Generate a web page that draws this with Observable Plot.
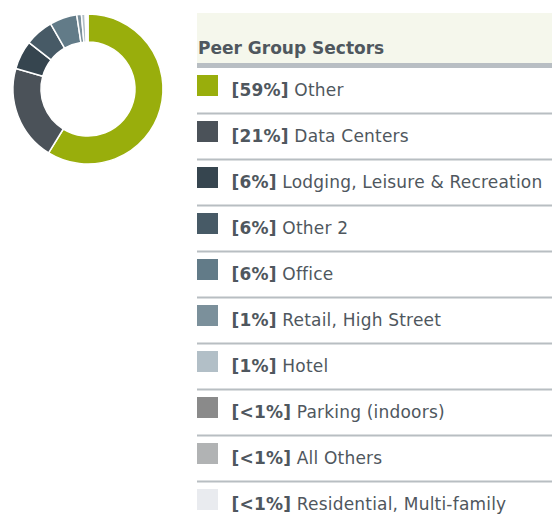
<!DOCTYPE html>
<html><head><meta charset="utf-8">
<script src="https://cdn.jsdelivr.net/npm/d3@7"></script>
<script src="https://cdn.jsdelivr.net/npm/@observablehq/plot@0.6"></script>
<style>body{margin:0;background:#fff;}</style>
</head><body><div id="chart"></div>
<script>
const title = "Peer Group Sectors";
const sectors = ["Other","Data Centers","Lodging, Leisure & Recreation","Other 2","Office","Retail, High Street","Hotel","Parking (indoors)","All Others","Residential, Multi-family"];
const shares = [58.8,20.6,6.2,6.1,5.9,1.0,0.8,0.2,0.2,0.2];
const shareLabels = ["[59%]","[21%]","[6%]","[6%]","[6%]","[1%]","[1%]","[<1%]","[<1%]","[<1%]"];
const colors = ["#99ae0c","#4b5259","#36454f","#475a66","#627b88","#7b909b","#b2bfc7","#8a8a8a","#b1b3b4","#e9ebef"];

const rows = sectors.map((name, i) => ({name, share: shares[i], label: shareLabels[i], color: colors[i]}));
const FONT = "'DejaVu Sans', sans-serif";
const TEXT = "#4f575e";
const SVGNS = "http://www.w3.org/2000/svg";

function headerMark() {
  const g = document.createElementNS(SVGNS, "g");
  const sel = d3.select(g);
  sel.append("rect").attr("x", 197).attr("y", 13).attr("width", 355).attr("height", 50).attr("fill", "#f5f7ec");
  sel.append("rect").attr("x", 197).attr("y", 63).attr("width", 355).attr("height", 5).attr("fill", "#b8bec3");
  sel.append("text").attr("x", 198).attr("y", 53.5).attr("font-size", 17).attr("font-weight", "bold")
    .attr("text-anchor", "start").attr("fill", TEXT).text(title);
  return g;
}

function donutMark(index, scales) {
  const g = document.createElementNS(SVGNS, "g");
  const pie = d3.pie().sort(null).value(d => d.share)(rows);
  const arc = d3.arc().innerRadius(47).outerRadius(75);
  const colorOf = scales && scales.color ? scales.color : null;
  d3.select(g).attr("transform", "translate(88,89)")
    .selectAll("path").data(pie).join("path")
    .attr("d", arc)
    .attr("fill", d => colorOf ? colorOf(d.data.name) : d.data.color)
    .attr("stroke", "#fff").attr("stroke-width", 1.5).attr("stroke-linejoin", "round");
  return g;
}

const chart = Plot.plot({
  width: 552, height: 520, margin: 0,
  x: {type: "identity", axis: null},
  y: {type: "band", domain: sectors, range: [68, 528], padding: 0, axis: null},
  color: {type: "ordinal", domain: sectors, range: colors},
  style: {fontFamily: FONT, background: "#fff"},
  marks: [
    headerMark,
    donutMark,
    Plot.ruleY(rows.slice(0, -1), {y: "name", x1: 197, x2: 552, dy: 22, stroke: "#b8bec2", strokeWidth: 2}),
    Plot.barX(rows, {x1: 197, x2: 218, y: "name", fill: "name", insetTop: 7, insetBottom: 18}),
    Plot.text(rows, {x: 231, y: "name", text: d => d.label + "|" + d.name, textAnchor: "start",
      fontSize: 17, fill: TEXT, dy: -0.5})
  ]
});
document.getElementById("chart").appendChild(chart);

d3.select(chart).selectAll('g[aria-label="text"] text').each(function() {
  const [a, b] = this.textContent.split("|");
  const t = d3.select(this).attr("letter-spacing", 0.2);
  t.text(null);
  t.append("tspan").attr("font-weight", "bold").text(a);
  t.append("tspan").text(" " + b);
});
</script>
</body></html>
